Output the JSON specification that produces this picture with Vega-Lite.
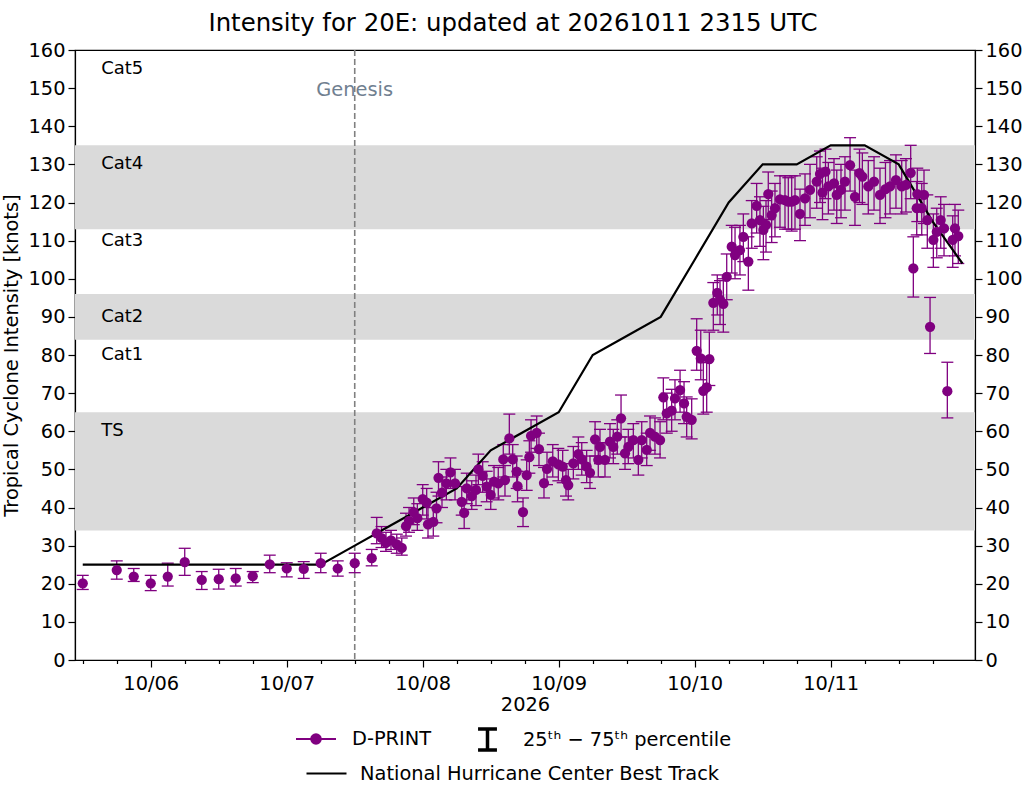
{
  "$schema": "https://vega.github.io/schema/vega-lite/v6.json",
  "width": 900,
  "height": 610,
  "autosize": {"type": "none"},
  "padding": {"left": 75, "top": 50, "right": 50, "bottom": 125},
  "title": {
    "text": "Intensity for 20E: updated at 20261011 2315 UTC",
    "fontSize": 24.4,
    "fontWeight": "normal",
    "font": "DejaVu Sans",
    "color": "black",
    "anchor": "middle",
    "dx": -12,
    "offset": 4
  },
  "datasets": {
    "dprint": [
      {"t": "2026-10-05T12:00:00Z", "v": 20.1, "lo": 18.5, "hi": 22.2},
      {"t": "2026-10-05T18:00:00Z", "v": 23.6, "lo": 21.2, "hi": 26.0},
      {"t": "2026-10-05T21:00:00Z", "v": 21.9, "lo": 20.6, "hi": 24.0},
      {"t": "2026-10-06T00:00:00Z", "v": 20.1, "lo": 18.2, "hi": 22.2},
      {"t": "2026-10-06T03:00:00Z", "v": 21.9, "lo": 19.4, "hi": 25.4},
      {"t": "2026-10-06T06:00:00Z", "v": 25.7, "lo": 22.2, "hi": 29.3},
      {"t": "2026-10-06T09:00:00Z", "v": 21.0, "lo": 18.5, "hi": 23.2},
      {"t": "2026-10-06T12:00:00Z", "v": 21.2, "lo": 18.6, "hi": 23.8},
      {"t": "2026-10-06T15:00:00Z", "v": 21.4, "lo": 19.4, "hi": 24.0},
      {"t": "2026-10-06T18:00:00Z", "v": 22.0, "lo": 20.3, "hi": 23.2},
      {"t": "2026-10-06T21:00:00Z", "v": 25.1, "lo": 22.9, "hi": 27.5},
      {"t": "2026-10-07T00:00:00Z", "v": 24.0, "lo": 21.8, "hi": 25.5},
      {"t": "2026-10-07T03:00:00Z", "v": 23.9, "lo": 21.4, "hi": 25.8},
      {"t": "2026-10-07T06:00:00Z", "v": 25.4, "lo": 22.9, "hi": 28.0},
      {"t": "2026-10-07T09:00:00Z", "v": 24.0, "lo": 22.0, "hi": 26.0},
      {"t": "2026-10-07T12:00:00Z", "v": 25.4, "lo": 22.9, "hi": 28.0},
      {"t": "2026-10-07T15:00:00Z", "v": 26.7, "lo": 24.7, "hi": 29.0},
      {"t": "2026-10-07T15:53:00Z", "v": 33.2, "lo": 30.5, "hi": 37.4},
      {"t": "2026-10-07T16:44:00Z", "v": 32.0, "lo": 29.5, "hi": 35.0},
      {"t": "2026-10-07T17:31:00Z", "v": 30.7, "lo": 28.5, "hi": 33.5},
      {"t": "2026-10-07T18:24:00Z", "v": 31.4, "lo": 29.0, "hi": 34.0},
      {"t": "2026-10-07T19:25:00Z", "v": 30.3, "lo": 28.0, "hi": 33.0},
      {"t": "2026-10-07T20:18:00Z", "v": 29.4, "lo": 27.5, "hi": 32.0},
      {"t": "2026-10-07T21:03:00Z", "v": 35.1, "lo": 32.5, "hi": 38.5},
      {"t": "2026-10-07T21:35:00Z", "v": 36.5, "lo": 33.5, "hi": 40.0},
      {"t": "2026-10-07T22:25:00Z", "v": 38.8, "lo": 35.5, "hi": 42.5},
      {"t": "2026-10-07T23:03:00Z", "v": 37.2, "lo": 34.0, "hi": 41.0},
      {"t": "2026-10-08T00:00:00Z", "v": 42.2, "lo": 38.0, "hi": 46.0},
      {"t": "2026-10-08T00:42:00Z", "v": 41.3, "lo": 37.0, "hi": 45.0},
      {"t": "2026-10-08T00:56:00Z", "v": 35.6, "lo": 32.0, "hi": 40.0},
      {"t": "2026-10-08T01:52:00Z", "v": 36.2, "lo": 32.5, "hi": 40.0},
      {"t": "2026-10-08T02:26:00Z", "v": 39.8, "lo": 36.0, "hi": 44.0},
      {"t": "2026-10-08T02:47:00Z", "v": 47.8, "lo": 43.0, "hi": 52.0},
      {"t": "2026-10-08T03:24:00Z", "v": 43.9, "lo": 40.0, "hi": 48.0},
      {"t": "2026-10-08T04:10:00Z", "v": 46.3, "lo": 42.0, "hi": 50.0},
      {"t": "2026-10-08T04:54:00Z", "v": 49.2, "lo": 45.0, "hi": 53.0},
      {"t": "2026-10-08T05:42:00Z", "v": 46.3, "lo": 42.0, "hi": 50.0},
      {"t": "2026-10-08T06:53:00Z", "v": 41.5, "lo": 38.0, "hi": 45.5},
      {"t": "2026-10-08T07:19:00Z", "v": 38.6, "lo": 34.5, "hi": 42.0},
      {"t": "2026-10-08T07:46:00Z", "v": 45.0, "lo": 41.0, "hi": 49.0},
      {"t": "2026-10-08T08:39:00Z", "v": 43.0, "lo": 39.5, "hi": 47.0},
      {"t": "2026-10-08T09:24:00Z", "v": 44.6, "lo": 40.5, "hi": 48.5},
      {"t": "2026-10-08T09:49:00Z", "v": 50.0, "lo": 46.0, "hi": 54.0},
      {"t": "2026-10-08T10:35:00Z", "v": 48.3, "lo": 44.0, "hi": 52.0},
      {"t": "2026-10-08T11:17:00Z", "v": 45.5, "lo": 41.5, "hi": 49.5},
      {"t": "2026-10-08T12:00:00Z", "v": 43.3, "lo": 39.5, "hi": 47.5},
      {"t": "2026-10-08T12:35:00Z", "v": 46.8, "lo": 42.5, "hi": 51.0},
      {"t": "2026-10-08T13:20:00Z", "v": 46.3, "lo": 42.0, "hi": 50.5},
      {"t": "2026-10-08T14:13:00Z", "v": 52.6, "lo": 48.0, "hi": 56.5},
      {"t": "2026-10-08T14:31:00Z", "v": 47.2, "lo": 43.0, "hi": 51.0},
      {"t": "2026-10-08T15:17:00Z", "v": 58.1, "lo": 54.0, "hi": 64.5},
      {"t": "2026-10-08T15:53:00Z", "v": 52.6, "lo": 48.0, "hi": 56.5},
      {"t": "2026-10-08T16:35:00Z", "v": 49.4, "lo": 45.0, "hi": 53.5},
      {"t": "2026-10-08T16:44:00Z", "v": 45.6, "lo": 41.5, "hi": 49.5},
      {"t": "2026-10-08T17:42:00Z", "v": 38.8, "lo": 35.0, "hi": 42.5},
      {"t": "2026-10-08T18:21:00Z", "v": 48.5, "lo": 44.5, "hi": 52.5},
      {"t": "2026-10-08T18:49:00Z", "v": 53.2, "lo": 49.0, "hi": 57.5},
      {"t": "2026-10-08T19:07:00Z", "v": 58.8, "lo": 54.5, "hi": 63.0},
      {"t": "2026-10-08T20:07:00Z", "v": 59.6, "lo": 55.5, "hi": 64.0},
      {"t": "2026-10-08T20:31:00Z", "v": 55.3, "lo": 51.0, "hi": 59.5},
      {"t": "2026-10-08T21:24:00Z", "v": 46.4, "lo": 42.5, "hi": 50.5},
      {"t": "2026-10-08T21:56:00Z", "v": 50.1, "lo": 46.0, "hi": 54.5},
      {"t": "2026-10-08T22:57:00Z", "v": 52.1, "lo": 48.0, "hi": 56.5},
      {"t": "2026-10-08T23:56:00Z", "v": 51.3, "lo": 47.0, "hi": 55.5},
      {"t": "2026-10-09T00:42:00Z", "v": 50.7, "lo": 46.5, "hi": 55.0},
      {"t": "2026-10-09T01:17:00Z", "v": 47.2, "lo": 43.0, "hi": 51.5},
      {"t": "2026-10-09T01:41:00Z", "v": 45.9, "lo": 42.0, "hi": 50.0},
      {"t": "2026-10-09T02:35:00Z", "v": 51.6, "lo": 47.5, "hi": 56.0},
      {"t": "2026-10-09T03:28:00Z", "v": 54.0, "lo": 50.0, "hi": 58.5},
      {"t": "2026-10-09T04:04:00Z", "v": 52.6, "lo": 48.5, "hi": 57.0},
      {"t": "2026-10-09T04:56:00Z", "v": 50.7, "lo": 46.5, "hi": 55.0},
      {"t": "2026-10-09T05:31:00Z", "v": 49.1, "lo": 45.0, "hi": 53.5},
      {"t": "2026-10-09T06:25:00Z", "v": 57.9, "lo": 53.5, "hi": 62.5},
      {"t": "2026-10-09T06:59:00Z", "v": 52.5, "lo": 48.0, "hi": 57.0},
      {"t": "2026-10-09T07:17:00Z", "v": 55.9, "lo": 51.5, "hi": 60.5},
      {"t": "2026-10-09T08:10:00Z", "v": 52.5, "lo": 48.0, "hi": 57.0},
      {"t": "2026-10-09T09:03:00Z", "v": 57.3, "lo": 53.0, "hi": 62.0},
      {"t": "2026-10-09T09:38:00Z", "v": 55.9, "lo": 51.5, "hi": 60.5},
      {"t": "2026-10-09T10:20:00Z", "v": 58.6, "lo": 54.0, "hi": 63.0},
      {"t": "2026-10-09T11:00:00Z", "v": 63.4, "lo": 58.5, "hi": 69.5},
      {"t": "2026-10-09T11:42:00Z", "v": 54.2, "lo": 50.0, "hi": 58.5},
      {"t": "2026-10-09T12:17:00Z", "v": 55.9, "lo": 51.5, "hi": 60.5},
      {"t": "2026-10-09T13:10:00Z", "v": 57.7, "lo": 53.0, "hi": 62.0},
      {"t": "2026-10-09T14:03:00Z", "v": 52.5, "lo": 48.5, "hi": 57.0},
      {"t": "2026-10-09T14:39:00Z", "v": 57.7, "lo": 53.0, "hi": 62.5},
      {"t": "2026-10-09T15:32:00Z", "v": 55.1, "lo": 51.0, "hi": 59.5},
      {"t": "2026-10-09T16:07:00Z", "v": 59.6, "lo": 55.0, "hi": 64.0},
      {"t": "2026-10-09T16:59:00Z", "v": 58.6, "lo": 54.0, "hi": 63.5},
      {"t": "2026-10-09T17:53:00Z", "v": 57.7, "lo": 53.0, "hi": 62.5},
      {"t": "2026-10-09T18:28:00Z", "v": 68.9, "lo": 63.0, "hi": 74.0},
      {"t": "2026-10-09T19:04:00Z", "v": 64.7, "lo": 59.5, "hi": 70.0},
      {"t": "2026-10-09T19:56:00Z", "v": 65.4, "lo": 60.0, "hi": 71.0},
      {"t": "2026-10-09T20:31:00Z", "v": 68.6, "lo": 63.0, "hi": 73.5},
      {"t": "2026-10-09T21:25:00Z", "v": 70.8, "lo": 65.0, "hi": 76.0},
      {"t": "2026-10-09T22:07:00Z", "v": 67.3, "lo": 62.0, "hi": 73.0},
      {"t": "2026-10-09T22:35:00Z", "v": 63.8, "lo": 58.5, "hi": 69.0},
      {"t": "2026-10-09T23:28:00Z", "v": 63.0, "lo": 58.0, "hi": 68.5},
      {"t": "2026-10-10T00:21:00Z", "v": 81.1, "lo": 76.0, "hi": 89.5},
      {"t": "2026-10-10T01:04:00Z", "v": 79.1, "lo": 73.5, "hi": 86.5},
      {"t": "2026-10-10T01:31:00Z", "v": 70.6, "lo": 64.5, "hi": 78.0},
      {"t": "2026-10-10T02:07:00Z", "v": 71.5, "lo": 65.0, "hi": 79.0},
      {"t": "2026-10-10T02:35:00Z", "v": 78.9, "lo": 72.0, "hi": 86.0},
      {"t": "2026-10-10T03:17:00Z", "v": 93.7, "lo": 86.5, "hi": 99.0},
      {"t": "2026-10-10T03:59:00Z", "v": 96.3, "lo": 90.5, "hi": 101.0},
      {"t": "2026-10-10T04:28:00Z", "v": 94.5, "lo": 88.0, "hi": 99.5},
      {"t": "2026-10-10T05:03:00Z", "v": 93.4, "lo": 86.0, "hi": 100.0},
      {"t": "2026-10-10T05:39:00Z", "v": 100.5, "lo": 94.5, "hi": 106.5},
      {"t": "2026-10-10T06:32:00Z", "v": 108.4, "lo": 101.5, "hi": 114.0},
      {"t": "2026-10-10T07:07:00Z", "v": 106.2, "lo": 100.0, "hi": 113.5},
      {"t": "2026-10-10T07:59:00Z", "v": 107.5, "lo": 101.0, "hi": 114.0},
      {"t": "2026-10-10T08:35:00Z", "v": 111.0, "lo": 104.5, "hi": 117.0},
      {"t": "2026-10-10T09:28:00Z", "v": 104.5, "lo": 97.0, "hi": 111.0},
      {"t": "2026-10-10T10:04:00Z", "v": 114.5, "lo": 108.0, "hi": 120.5},
      {"t": "2026-10-10T10:56:00Z", "v": 119.1, "lo": 112.0, "hi": 125.0},
      {"t": "2026-10-10T11:31:00Z", "v": 115.4, "lo": 108.5, "hi": 121.5},
      {"t": "2026-10-10T12:07:00Z", "v": 112.8, "lo": 105.0, "hi": 119.0},
      {"t": "2026-10-10T12:35:00Z", "v": 114.1, "lo": 107.0, "hi": 120.5},
      {"t": "2026-10-10T12:59:00Z", "v": 122.2, "lo": 115.5, "hi": 128.0},
      {"t": "2026-10-10T13:35:00Z", "v": 116.7, "lo": 109.5, "hi": 123.0},
      {"t": "2026-10-10T14:10:00Z", "v": 118.5, "lo": 111.0, "hi": 125.0},
      {"t": "2026-10-10T15:03:00Z", "v": 120.8, "lo": 113.5, "hi": 127.0},
      {"t": "2026-10-10T15:56:00Z", "v": 120.6, "lo": 113.0, "hi": 127.0},
      {"t": "2026-10-10T16:31:00Z", "v": 120.2, "lo": 113.0, "hi": 126.5},
      {"t": "2026-10-10T17:07:00Z", "v": 120.2, "lo": 112.5, "hi": 127.0},
      {"t": "2026-10-10T17:42:00Z", "v": 120.6, "lo": 113.0, "hi": 127.0},
      {"t": "2026-10-10T18:35:00Z", "v": 117.0, "lo": 110.0, "hi": 123.5},
      {"t": "2026-10-10T19:28:00Z", "v": 121.1, "lo": 114.0, "hi": 127.5},
      {"t": "2026-10-10T20:21:00Z", "v": 123.3, "lo": 116.0, "hi": 130.0},
      {"t": "2026-10-10T21:32:00Z", "v": 125.5, "lo": 118.5, "hi": 132.0},
      {"t": "2026-10-10T22:07:00Z", "v": 127.5, "lo": 120.0, "hi": 133.5},
      {"t": "2026-10-10T22:33:00Z", "v": 122.6, "lo": 115.5, "hi": 129.0},
      {"t": "2026-10-10T23:05:00Z", "v": 128.1, "lo": 121.0, "hi": 134.0},
      {"t": "2026-10-10T23:35:00Z", "v": 124.2, "lo": 117.0, "hi": 130.5},
      {"t": "2026-10-11T00:35:00Z", "v": 125.0, "lo": 118.0, "hi": 131.5},
      {"t": "2026-10-11T01:04:00Z", "v": 122.0, "lo": 114.5, "hi": 128.5},
      {"t": "2026-10-11T01:49:00Z", "v": 123.3, "lo": 116.0, "hi": 130.0},
      {"t": "2026-10-11T02:31:00Z", "v": 125.5, "lo": 118.0, "hi": 132.0},
      {"t": "2026-10-11T03:25:00Z", "v": 129.8, "lo": 123.0, "hi": 137.0},
      {"t": "2026-10-11T04:17:00Z", "v": 121.5, "lo": 114.0, "hi": 128.5},
      {"t": "2026-10-11T05:05:00Z", "v": 127.7, "lo": 120.0, "hi": 134.0},
      {"t": "2026-10-11T05:35:00Z", "v": 126.8, "lo": 119.5, "hi": 133.0},
      {"t": "2026-10-11T06:38:00Z", "v": 124.2, "lo": 117.0, "hi": 131.0},
      {"t": "2026-10-11T07:39:00Z", "v": 125.5, "lo": 118.0, "hi": 132.0},
      {"t": "2026-10-11T08:42:00Z", "v": 122.0, "lo": 114.5, "hi": 129.0},
      {"t": "2026-10-11T09:40:00Z", "v": 123.5, "lo": 116.0, "hi": 130.5},
      {"t": "2026-10-11T10:28:00Z", "v": 124.2, "lo": 117.0, "hi": 131.0},
      {"t": "2026-10-11T11:31:00Z", "v": 125.9, "lo": 118.5, "hi": 132.5},
      {"t": "2026-10-11T12:32:00Z", "v": 124.2, "lo": 117.0, "hi": 131.0},
      {"t": "2026-10-11T13:17:00Z", "v": 124.6, "lo": 117.5, "hi": 131.5},
      {"t": "2026-10-11T14:07:00Z", "v": 127.8, "lo": 121.0, "hi": 135.0},
      {"t": "2026-10-11T14:35:00Z", "v": 102.7, "lo": 95.2, "hi": 111.0},
      {"t": "2026-10-11T15:11:00Z", "v": 118.5, "lo": 111.5, "hi": 125.5},
      {"t": "2026-10-11T15:17:00Z", "v": 122.2, "lo": 115.0, "hi": 129.0},
      {"t": "2026-10-11T16:04:00Z", "v": 118.5, "lo": 111.5, "hi": 125.0},
      {"t": "2026-10-11T16:28:00Z", "v": 122.0, "lo": 114.5, "hi": 128.5},
      {"t": "2026-10-11T17:03:00Z", "v": 115.4, "lo": 108.0, "hi": 122.0},
      {"t": "2026-10-11T17:32:00Z", "v": 87.4, "lo": 80.4, "hi": 95.1},
      {"t": "2026-10-11T18:07:00Z", "v": 110.2, "lo": 103.0, "hi": 117.0},
      {"t": "2026-10-11T18:43:00Z", "v": 112.3, "lo": 105.5, "hi": 118.5},
      {"t": "2026-10-11T19:25:00Z", "v": 115.4, "lo": 108.0, "hi": 121.5},
      {"t": "2026-10-11T20:00:00Z", "v": 113.2, "lo": 106.0, "hi": 119.5},
      {"t": "2026-10-11T20:35:00Z", "v": 70.5, "lo": 63.5, "hi": 78.1},
      {"t": "2026-10-11T21:32:00Z", "v": 110.2, "lo": 103.0, "hi": 116.5},
      {"t": "2026-10-11T21:56:00Z", "v": 113.2, "lo": 106.0, "hi": 119.5},
      {"t": "2026-10-11T22:31:00Z", "v": 111.2, "lo": 104.0, "hi": 118.0}
    ],
    "besttrack": [
      {"t": "2026-10-05T12:00:00Z", "v": 25},
      {"t": "2026-10-05T18:00:00Z", "v": 25},
      {"t": "2026-10-06T00:00:00Z", "v": 25},
      {"t": "2026-10-06T06:00:00Z", "v": 25},
      {"t": "2026-10-06T12:00:00Z", "v": 25},
      {"t": "2026-10-06T18:00:00Z", "v": 25},
      {"t": "2026-10-07T00:00:00Z", "v": 25},
      {"t": "2026-10-07T06:00:00Z", "v": 25},
      {"t": "2026-10-07T12:00:00Z", "v": 30},
      {"t": "2026-10-07T18:00:00Z", "v": 35},
      {"t": "2026-10-08T00:00:00Z", "v": 40},
      {"t": "2026-10-08T06:00:00Z", "v": 45},
      {"t": "2026-10-08T12:00:00Z", "v": 55},
      {"t": "2026-10-08T18:00:00Z", "v": 60},
      {"t": "2026-10-09T00:00:00Z", "v": 65},
      {"t": "2026-10-09T06:00:00Z", "v": 80},
      {"t": "2026-10-09T12:00:00Z", "v": 85},
      {"t": "2026-10-09T18:00:00Z", "v": 90},
      {"t": "2026-10-10T00:00:00Z", "v": 105},
      {"t": "2026-10-10T06:00:00Z", "v": 120},
      {"t": "2026-10-10T12:00:00Z", "v": 130},
      {"t": "2026-10-10T18:00:00Z", "v": 130},
      {"t": "2026-10-11T00:00:00Z", "v": 135},
      {"t": "2026-10-11T06:00:00Z", "v": 135},
      {"t": "2026-10-11T12:00:00Z", "v": 130},
      {"t": "2026-10-11T18:00:00Z", "v": 115},
      {"t": "2026-10-11T23:15:00Z", "v": 104}
    ],
    "bands": [
      {"lo": 34, "hi": 65},
      {"lo": 84, "hi": 96},
      {"lo": 113, "hi": 135}
    ],
    "cats": [
      {"label": "Cat5", "t": "2026-10-05T15:15:00Z", "v": 155},
      {"label": "Cat4", "t": "2026-10-05T15:15:00Z", "v": 130},
      {"label": "Cat3", "t": "2026-10-05T15:15:00Z", "v": 110},
      {"label": "Cat2", "t": "2026-10-05T15:15:00Z", "v": 90},
      {"label": "Cat1", "t": "2026-10-05T15:15:00Z", "v": 80},
      {"label": "TS", "t": "2026-10-05T15:15:00Z", "v": 60}
    ],
    "genesis": [
      {"label": "Genesis", "t": "2026-10-07T12:00:00Z", "v": 149.5}
    ]
  },
  "encoding": {
    "x": {
      "field": "t", "type": "temporal", "title": "2026",
      "scale": {"type": "utc", "domain": [
        {"year": 2026, "month": 10, "date": 5, "hours": 10, "minutes": 38, "utc": true},
        {"year": 2026, "month": 10, "date": 12, "hours": 1, "minutes": 28, "utc": true}
      ], "nice": false},
      "axis": {
        "values": [
          {"year": 2026, "month": 10, "date": 5, "hours": 12, "utc": true},
          {"year": 2026, "month": 10, "date": 5, "hours": 18, "utc": true},
          {"year": 2026, "month": 10, "date": 6, "hours": 0, "utc": true},
          {"year": 2026, "month": 10, "date": 6, "hours": 6, "utc": true},
          {"year": 2026, "month": 10, "date": 6, "hours": 12, "utc": true},
          {"year": 2026, "month": 10, "date": 6, "hours": 18, "utc": true},
          {"year": 2026, "month": 10, "date": 7, "hours": 0, "utc": true},
          {"year": 2026, "month": 10, "date": 7, "hours": 6, "utc": true},
          {"year": 2026, "month": 10, "date": 7, "hours": 12, "utc": true},
          {"year": 2026, "month": 10, "date": 7, "hours": 18, "utc": true},
          {"year": 2026, "month": 10, "date": 8, "hours": 0, "utc": true},
          {"year": 2026, "month": 10, "date": 8, "hours": 6, "utc": true},
          {"year": 2026, "month": 10, "date": 8, "hours": 12, "utc": true},
          {"year": 2026, "month": 10, "date": 8, "hours": 18, "utc": true},
          {"year": 2026, "month": 10, "date": 9, "hours": 0, "utc": true},
          {"year": 2026, "month": 10, "date": 9, "hours": 6, "utc": true},
          {"year": 2026, "month": 10, "date": 9, "hours": 12, "utc": true},
          {"year": 2026, "month": 10, "date": 9, "hours": 18, "utc": true},
          {"year": 2026, "month": 10, "date": 10, "hours": 0, "utc": true},
          {"year": 2026, "month": 10, "date": 10, "hours": 6, "utc": true},
          {"year": 2026, "month": 10, "date": 10, "hours": 12, "utc": true},
          {"year": 2026, "month": 10, "date": 10, "hours": 18, "utc": true},
          {"year": 2026, "month": 10, "date": 11, "hours": 0, "utc": true},
          {"year": 2026, "month": 10, "date": 11, "hours": 6, "utc": true},
          {"year": 2026, "month": 10, "date": 11, "hours": 12, "utc": true},
          {"year": 2026, "month": 10, "date": 11, "hours": 18, "utc": true}
        ],
        "labelExpr": "utchours(datum.value) == 0 ? utcFormat(datum.value, '%m/%d') : ''",
        "labelOverlap": false,
        "labelFlush": false,
        "tickSize": {"condition": {"test": "utchours(datum.value) == 0", "value": 7}, "value": 3.5},
        "labelPadding": 7,
        "titlePadding": 3
      }
    }
  },
  "layer": [
    {
      "data": {"name": "bands"},
      "mark": {"type": "rect", "color": "#dadada"},
      "encoding": {
        "x": null,
        "y": {"field": "lo", "type": "quantitative", "title": "Tropical Cyclone Intensity [knots]",
              "scale": {"domain": [0, 160], "nice": false, "zero": true},
              "axis": {"orient": "left", "values": [0, 10, 20, 30, 40, 50, 60, 70, 80, 90, 100, 110, 120, 130, 140, 150, 160], "labelOverlap": false, "titlePadding": 6}},
        "y2": {"field": "hi"}
      }
    },
    {
      "data": {"name": "cats"},
      "mark": {"type": "text", "align": "left", "baseline": "middle", "fontSize": 18, "color": "black"},
      "encoding": {
        "y": {"field": "v", "type": "quantitative", "scale": {"domain": [0, 160], "nice": false}, "axis": null},
        "text": {"field": "label"}
      }
    },
    {
      "data": {"name": "genesis"},
      "mark": {"type": "rule", "color": "#808080", "strokeWidth": 1.6, "strokeDash": [6, 3]},
      "encoding": {}
    },
    {
      "data": {"name": "genesis"},
      "mark": {"type": "text", "align": "center", "baseline": "middle", "fontSize": 19.4, "color": "#708090"},
      "encoding": {
        "y": {"field": "v", "type": "quantitative", "scale": {"domain": [0, 160], "nice": false}, "axis": null},
        "text": {"field": "label"}
      }
    },
    {
      "data": {"name": "dprint"},
      "mark": {"type": "rule", "strokeWidth": 1.3},
      "encoding": {
        "y": {"field": "lo", "type": "quantitative", "scale": {"domain": [0, 160], "nice": false}, "axis": null},
        "y2": {"field": "hi"},
        "color": {"field": "v", "type": "quantitative", "scale": {"range": ["#800080", "#800080"]}, "legend": null},
        "strokeDash": {
          "datum": "25ᵗʰ − 75ᵗʰ percentile",
          "scale": {"range": [[1, 0]]},
          "legend": {
            "orient": "none",
            "legendX": 400,
            "legendY": 677,
            "symbolType": "M-0.9,-1H0.9M0,-1V1M-0.9,1H0.9",
            "symbolSize": 441,
            "symbolStrokeWidth": 3.5,
            "symbolStrokeColor": "black",
            "symbolFillColor": "transparent",
            "labelOffset": 23
          }
        }
      }
    },
    {
      "data": {"name": "dprint"},
      "mark": {"type": "tick", "orient": "horizontal", "size": 12, "thickness": 1.3, "color": "#800080", "opacity": 1},
      "encoding": {
        "y": {"field": "lo", "type": "quantitative", "scale": {"domain": [0, 160], "nice": false}, "axis": null}
      }
    },
    {
      "data": {"name": "dprint"},
      "mark": {"type": "tick", "orient": "horizontal", "size": 12, "thickness": 1.3, "color": "#800080", "opacity": 1},
      "encoding": {
        "y": {"field": "hi", "type": "quantitative", "scale": {"domain": [0, 160], "nice": false}, "axis": null}
      }
    },
    {
      "data": {"name": "besttrack"},
      "mark": {"type": "line", "strokeWidth": 2.2},
      "encoding": {
        "y": {"field": "v", "type": "quantitative", "scale": {"domain": [0, 160], "nice": false},
              "axis": {"orient": "right", "title": null, "labelOverlap": false, "values": [0, 10, 20, 30, 40, 50, 60, 70, 80, 90, 100, 110, 120, 130, 140, 150, 160]}},
        "color": {
          "datum": "National Hurricane Center Best Track",
          "scale": {"range": ["black"]},
          "legend": {
            "orient": "none",
            "legendX": 230,
            "legendY": 702,
            "symbolType": "M-1,0H1",
            "symbolSize": 1600,
            "symbolStrokeWidth": 2.2,
            "labelOffset": 12
          }
        }
      }
    },
    {
      "data": {"name": "dprint"},
      "mark": {"type": "point", "filled": true, "size": 105, "opacity": 1},
      "encoding": {
        "y": {"field": "v", "type": "quantitative", "scale": {"domain": [0, 160], "nice": false}, "axis": null},
        "color": {
          "datum": "D-PRINT",
          "scale": {"range": ["#800080"]},
          "legend": {
            "orient": "none",
            "legendX": 220,
            "legendY": 668,
            "symbolType": "M-1,0H1M0.24,0A0.24,0.24,0,1,1,-0.24,0A0.24,0.24,0,1,1,0.24,0Z",
            "symbolSize": 1600,
            "symbolStrokeWidth": 2,
            "symbolStrokeColor": "#800080",
            "symbolOpacity": 1,
            "labelOffset": 15
          }
        }
      }
    }
  ],
  "resolve": {
    "scale": {"y": "independent", "color": "independent"}
  },
  "config": {
    "font": "DejaVu Sans",
    "view": {"stroke": "black", "strokeWidth": 1.2},
    "axis": {
      "grid": false,
      "zindex": 1,
      "domainColor": "black",
      "domainWidth": 1.2,
      "tickColor": "black",
      "tickWidth": 1.2,
      "tickSize": 7,
      "labelColor": "black",
      "titleColor": "black",
      "labelFont": "DejaVu Sans",
      "titleFont": "DejaVu Sans",
      "labelFontSize": 19.4,
      "titleFontSize": 19.4,
      "titleFontWeight": "normal",
      "labelPadding": 3
    },
    "legend": {
      "padding": 0,
      "labelFont": "DejaVu Sans",
      "labelFontSize": 19.4,
      "labelColor": "black",
      "labelLimit": 800
    }
  }
}
